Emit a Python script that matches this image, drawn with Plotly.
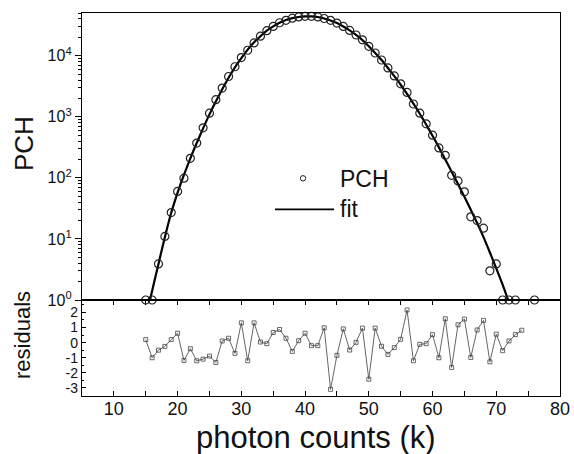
import plotly.graph_objects as go

# ---- data ----
pch_k = [15, 16, 17, 18, 19, 20, 21, 22, 23, 24, 25, 26, 27, 28, 29, 30,
         31, 32, 33, 34, 35, 36, 37, 38, 39, 40, 41, 42, 43, 44, 45, 46,
         47, 48, 49, 50, 51, 52, 53, 54, 55, 56, 57, 58, 59, 60, 61, 62,
         63, 64, 65, 66, 67, 68, 69, 70, 71, 72, 73, 76]
pch_val = [1, 1, 3.9, 11, 27, 60, 99, 209, 372, 661, 1148, 1905, 2951, 4571,
           6607, 9333, 12303, 16218, 20893, 25704, 30200, 34674, 38019, 41210,
           43152, 44157, 44157, 43152, 40738, 38019, 34277, 30200, 26002,
           21878, 18197, 14289, 11092, 8511, 6310, 4677, 3467, 2512, 1622,
           1148, 767, 501, 309, 234, 110, 89, 59, 23, 20, 15, 3.0, 3.9,
           1, 1, 1, 1]

fit_k = [15.5, 16, 17, 18, 19, 20, 21, 22, 23, 24, 25, 26, 27, 28, 29, 30,
         31, 32, 33, 34, 35, 36, 37, 38, 39, 40, 41, 42, 43, 44, 45, 46,
         47, 48, 49, 50, 51, 52, 53, 54, 55, 56, 57, 58, 59, 60, 61, 62,
         63, 64, 65, 66, 67, 68, 69, 70, 71, 72]
fit_val = [0.85, 1.41, 3.9, 10.7, 26.9, 57.5, 112, 209, 372, 646, 1096, 1778,
           2818, 4365, 6457, 9120, 12589, 16596, 20893, 25704, 30200, 34674,
           38459, 41210, 43152, 44157, 44157, 43152, 40738, 37844, 34277,
           30200, 26002, 21878, 17989, 14289, 11092, 8511, 6310, 4624, 3350,
           2371, 1641, 1122, 750, 490, 316, 200, 126, 79, 49, 30, 18.2, 10.7,
           6.0, 3.3, 1.78, 0.9]

res_k = list(range(15, 75))
res_val = [0.2, -1.0, -0.5, -0.25, 0.2, 0.62, -1.18, -0.4, -1.2, -1.09,
           -0.89, -1.31, 0.11, 0.29, -0.71, 1.31, -1.2, 1.31, 0.04, -0.07,
           0.67, 0.87, 0.29, -0.58, 0.13, 0.62, -0.2, -0.2, 0.98, -3.09,
           -0.84, 0.91, -0.49, 0.02, 0.96, -2.42, 0.96, -0.24, -0.78, -0.33,
           0.22, 2.16, -1.2, -0.11, -0.07, 0.53, -1.0, 1.58, -1.64, 1.18,
           1.56, -0.98, 0.84, 1.47, -1.27, 0.56, -0.53, 0.11, 0.53, 0.82]

log_tickvals = [1, 10, 100, 1000, 10000]
log_ticktext = ["10<sup>0</sup>", "10<sup>1</sup>", "10<sup>2</sup>",
                "10<sup>3</sup>", "10<sup>4</sup>"]
res_tickvals = [-3, -2, -1, 0, 1, 2]
res_ticktext = ["-3", "-2", "-1", "0", "1", "2"]
x_tickvals = [10, 20, 30, 40, 50, 60, 70, 80]
x_ticktext = ["10", "20", "30", "40", "50", "60", "70", "80"]
legend_labels = ["PCH", "fit"]

FONT = "Liberation Sans, Arial, sans-serif"

# plot area in pixels
L, R, T, B = 82, 560, 13, 396
PW, PH = R - L, B - T


def px(x):
    return (x - L) / PW


def py(y):
    return (B - y) / PH


fig = go.Figure()

fig.add_trace(go.Scatter(
    x=fit_k, y=fit_val, mode="lines", name="fit",
    line=dict(color="black", width=2.2, shape="spline", smoothing=0.6),
    xaxis="x", yaxis="y", showlegend=False))

fig.add_trace(go.Scatter(
    x=pch_k, y=pch_val, mode="markers", name="PCH",
    marker=dict(symbol="circle-open", size=8, color="#222",
                line=dict(width=1.2, color="#222")),
    cliponaxis=False, xaxis="x", yaxis="y", showlegend=False))

fig.add_trace(go.Scatter(
    x=res_k, y=res_val, mode="lines+markers", name="residuals",
    line=dict(color="#555", width=0.9),
    marker=dict(symbol="square-open", size=4, color="#444",
                line=dict(width=0.8, color="#444")),
    xaxis="x2", yaxis="y2", showlegend=False))

split = (B - 300) / PH
axis_common = dict(showline=True, linecolor="black", linewidth=1.3,
                   showgrid=False, zeroline=False, automargin=False,
                   tickcolor="black", tickwidth=1.2)

fig.update_layout(
    width=574, height=454,
    margin=dict(l=L, r=574 - R, t=T, b=454 - B, autoexpand=False),
    paper_bgcolor="white", plot_bgcolor="white",
    font=dict(family=FONT, color="#111"),
    showlegend=False,
    xaxis=dict(domain=[0, 1], anchor="y", range=[5, 80], ticks="",
               showticklabels=False, mirror=True, **axis_common),
    xaxis3=dict(overlaying="x", anchor="y", side="top", range=[5, 80],
                tickmode="linear", tick0=0, dtick=5, ticks="inside",
                ticklen=5, showticklabels=False, showline=False,
                showgrid=False, zeroline=False, automargin=False,
                tickcolor="black", tickwidth=1.2),
    yaxis=dict(domain=[split, 1], anchor="x", type="log", range=[0, 4.70],
               tickmode="array", tickvals=log_tickvals, ticktext=log_ticktext,
               ticks="outside", ticklen=6, mirror=True,
               minor=dict(ticks="outside", ticklen=3, dtick="D1",
                          tickcolor="black", tickwidth=1),
               tickfont=dict(size=16, family=FONT), **axis_common),
    xaxis2=dict(domain=[0, 1], anchor="y2", range=[5, 80],
                tickmode="array", tickvals=x_tickvals, ticktext=x_ticktext,
                ticks="inside", ticklen=5, mirror="ticks",
                ticklabelstandoff=-4,
                minor=dict(ticks="inside", ticklen=5, dtick=5, tick0=0,
                           tickcolor="black", tickwidth=1),
                tickfont=dict(size=18, family=FONT), **axis_common),
    yaxis2=dict(domain=[0, split], anchor="x2", range=[-3.53, 2.82],
                tickmode="array", tickvals=res_tickvals, ticktext=res_ticktext,
                ticks="inside", ticklen=4, mirror=True,
                minor=dict(ticks="inside", ticklen=2, dtick=0.5, tick0=0,
                           tickcolor="black", tickwidth=1),
                tickfont=dict(size=14, family=FONT), **axis_common),
    shapes=[
        dict(type="circle", xref="paper", yref="paper",
             x0=px(300.3), x1=px(305.7), y0=py(181), y1=py(175.6),
             line=dict(color="#222", width=1)),
        dict(type="line", xref="paper", yref="paper",
             x0=px(275), x1=px(334), y0=py(209.3), y1=py(209.3),
             line=dict(color="black", width=1.8)),
    ],
    annotations=[
        dict(text=legend_labels[0], xref="paper", yref="paper",
             x=px(338), y=py(178.5), xanchor="left", yanchor="middle",
             showarrow=False, font=dict(size=23, family=FONT, color="#111")),
        dict(text=legend_labels[1], xref="paper", yref="paper",
             x=px(338), y=py(209.5), xanchor="left", yanchor="middle",
             showarrow=False, font=dict(size=23, family=FONT, color="#111")),
        dict(text="PCH", xref="paper", yref="paper",
             x=px(24), y=py(144),
             xanchor="center", yanchor="middle", textangle=-90,
             showarrow=False, font=dict(size=26, family=FONT, color="#111")),
        dict(text="residuals", xref="paper", yref="paper",
             x=px(22), y=py(335),
             xanchor="center", yanchor="middle", textangle=-90,
             showarrow=False, font=dict(size=22, family=FONT, color="#111")),
        dict(text="photon counts (k)", xref="paper", yref="paper",
             x=px(316), y=py(437),
             xanchor="center", yanchor="middle",
             showarrow=False, font=dict(size=31, family=FONT, color="#111")),
    ],
)

fig.write_html("out.html", config={"displayModeBar": False})

# remove the default page margin so the figure sits at the window origin
with open("out.html", "r", encoding="utf-8") as f:
    html = f.read()
html = html.replace(
    "<head>",
    "<head><style>html,body{margin:0;padding:0;overflow:hidden;}</style>", 1)
with open("out.html", "w", encoding="utf-8") as f:
    f.write(html)
